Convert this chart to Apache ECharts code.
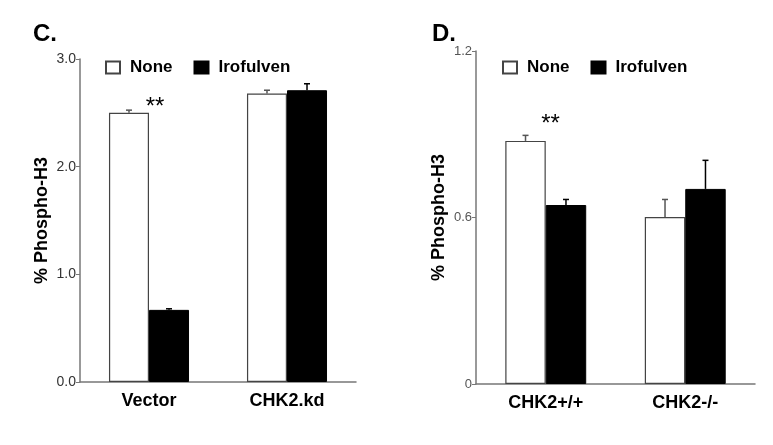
<!DOCTYPE html>
<html>
<head>
<meta charset="utf-8">
<script src="https://cdn.jsdelivr.net/npm/echarts@6/dist/echarts.min.js"></script>
<style>
  html, body { margin: 0; padding: 0; background: #fff; }
  #main { width: 773px; height: 445px; }
</style>
</head>
<body>
<div id="main"></div>
<script>
// panel C
var catsC = ['Vector', 'CHK2.kd'];
var noneC = [2.5, 2.68];
var noneErrC = [0.025, 0.03];
var iroC = [0.67, 2.71];
var iroErrC = [0.01, 0.06];
// panel D
var catsD = ['CHK2+/+', 'CHK2-/-'];
var noneD = [0.876, 0.602];
var noneErrD = [0.02, 0.063];
var iroD = [0.645, 0.703];
var iroErrD = [0.02, 0.103];

var FONT = '"Liberation Sans", Arial, sans-serif';
var GAP = 0.42;

function errData(vals, errs) {
    return vals.map(function (v, i) { return [i, v, errs[i]]; });
}

// side: -1 left bar, +1 right bar
function errSeries(xi, vals, errs, side, color) {
    return {
        type: 'custom',
        xAxisIndex: xi, yAxisIndex: xi,
        silent: true,
        z: 1,
        encode: { x: 0, y: 1 },
        data: errData(vals, errs),
        renderItem: function (params, api) {
            var band = api.size([1, 0])[0];
            var off = side * band * (1 - GAP) / 4;
            var p0 = api.coord([api.value(0), api.value(1)]);
            var p1 = api.coord([api.value(0), api.value(1) + api.value(2)]);
            var x = p0[0] + off;
            var st = { stroke: color, lineWidth: 1.5 };
            return {
                type: 'group',
                children: [
                    { type: 'line', shape: { x1: x, y1: p0[1], x2: x, y2: p1[1] }, style: st },
                    { type: 'line', shape: { x1: x - 3, y1: p1[1], x2: x + 3, y2: p1[1] }, style: st }
                ]
            };
        }
    };
}

var chart = echarts.init(document.getElementById('main'));

var axisGray = '#777';

function yAxisCfg(gi, max, interval, fmt, size, color, gap) {
    return {
        type: 'value', gridIndex: gi, min: 0, max: max, interval: interval,
        name: '% Phospho-H3', nameLocation: 'middle', nameGap: gap,
        nameTextStyle: { fontFamily: FONT, fontWeight: 'bold', fontSize: 18, color: '#000' },
        axisLine: { show: true, lineStyle: { color: axisGray, width: 1.5 } },
        axisTick: { show: true, length: 4, lineStyle: { color: axisGray } },
        splitLine: { show: false },
        axisLabel: { fontFamily: FONT, fontSize: size, color: color, margin: 4, formatter: fmt }
    };
}

function xAxisCfg(gi, cats) {
    return {
        type: 'category', gridIndex: gi, data: cats,
        axisLine: { lineStyle: { color: axisGray, width: 1.5 } },
        axisTick: { show: false },
        axisLabel: { fontFamily: FONT, fontWeight: 'bold', fontSize: 18, color: '#000', margin: 10 }
    };
}

function legendCfg(left, top) {
    return {
        left: left, top: top,
        icon: 'rect', itemWidth: 14, itemHeight: 12, itemGap: 21,
        selectedMode: false,
        data: ['None', 'Irofulven'],
        textStyle: { fontFamily: FONT, fontWeight: 'bold', fontSize: 17, color: '#000', padding: [0, 0, 0, 5] }
    };
}

var noneStyle = { color: '#fff', borderColor: '#444', borderWidth: 1.2 };
var iroStyle = { color: '#000', borderColor: '#000', borderWidth: 1 };

function starMark(cat, y, dx) {
    return {
        symbol: 'rect', symbolSize: 1,
        itemStyle: { color: 'rgba(0,0,0,0)', borderWidth: 0 },
        label: { show: true, position: 'inside', formatter: '**', offset: [dx, 0],
                 fontFamily: FONT, fontSize: 24, color: '#000' },
        data: [{ coord: [cat, y] }]
    };
}

chart.setOption({
    animation: false,
    title: [
        { text: 'C.', left: 28, top: 17, textStyle: { fontFamily: FONT, fontWeight: 'bold', fontSize: 24, color: '#000' } },
        { text: 'D.', left: 427, top: 17, textStyle: { fontFamily: FONT, fontWeight: 'bold', fontSize: 24, color: '#000' } }
    ],
    legend: [legendCfg(100, 54), legendCfg(497, 54)],
    grid: [
        { left: 80, top: 59, width: 276, height: 323 },
        { left: 476, top: 51, width: 279, height: 333 }
    ],
    xAxis: [xAxisCfg(0, catsC), xAxisCfg(1, catsD)],
    yAxis: [
        yAxisCfg(0, 3, 1, function (v) { return v.toFixed(1); }, 14, '#333', 29),
        yAxisCfg(1, 1.2, 0.6, function (v) { return v === 0 ? '0' : v.toFixed(1); }, 13, '#555', 28)
    ],
    series: [
        { name: 'None', type: 'bar', xAxisIndex: 0, yAxisIndex: 0, data: noneC, barGap: '0%', barCategoryGap: '42%',
          itemStyle: noneStyle, z: 2, markPoint: starMark('Vector', 2.55, 26) },
        { name: 'Irofulven', type: 'bar', xAxisIndex: 0, yAxisIndex: 0, data: iroC, barGap: '0%', barCategoryGap: '42%',
          itemStyle: iroStyle, z: 2 },
        { name: 'None', type: 'bar', xAxisIndex: 1, yAxisIndex: 1, data: noneD, barGap: '0%', barCategoryGap: '42%',
          itemStyle: noneStyle, z: 2, markPoint: starMark('CHK2+/+', 0.935, 25) },
        { name: 'Irofulven', type: 'bar', xAxisIndex: 1, yAxisIndex: 1, data: iroD, barGap: '0%', barCategoryGap: '42%',
          itemStyle: iroStyle, z: 2 },
        errSeries(0, noneC, noneErrC, -1, '#555'),
        errSeries(0, iroC, iroErrC, 1, '#000'),
        errSeries(1, noneD, noneErrD, -1, '#555'),
        errSeries(1, iroD, iroErrD, 1, '#000')
    ]
});
</script>
</body>
</html>
